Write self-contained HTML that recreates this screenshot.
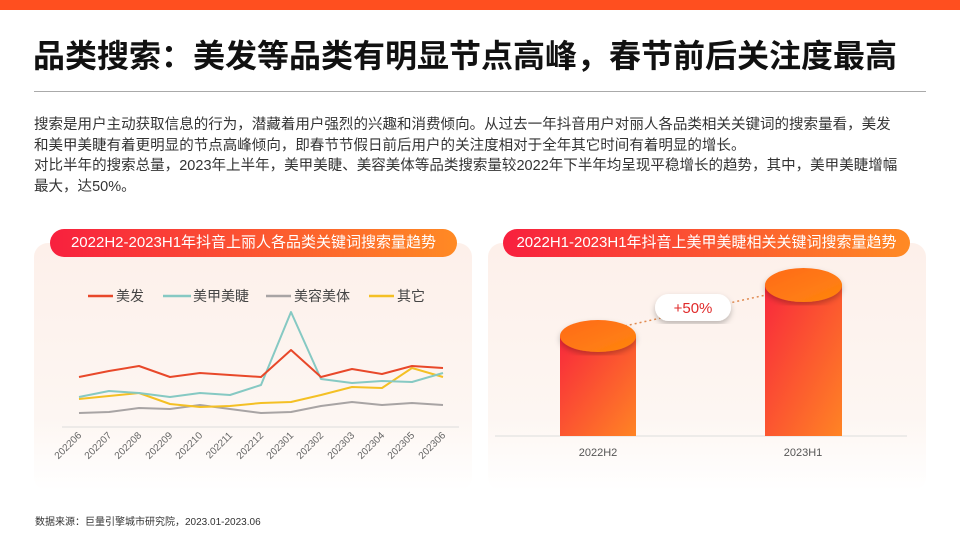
<!DOCTYPE html>
<html><head><meta charset="utf-8"><style>
*{margin:0;padding:0;box-sizing:border-box}
body{width:960px;height:540px;position:relative;background:#fff;font-family:"Liberation Sans","Noto Sans CJK SC",sans-serif;overflow:hidden}
.abs{position:absolute}
</style></head><body>
<div class="abs" style="left:0;top:0;width:960px;height:10px;background:#ff4f1f"></div>
<div class="abs" style="left:33px;top:34px;font-size:32px;font-weight:bold;color:#111;letter-spacing:0px;white-space:nowrap;line-height:44px">品类搜索：美发等品类有明显节点高峰，春节前后关注度最高</div>
<div class="abs" style="left:34px;top:91px;width:892px;height:1px;background:#aaa"></div>
<div class="abs" style="left:34px;top:115px;font-size:14.5px;color:#333;line-height:20.5px;white-space:nowrap;letter-spacing:0.02px">搜索是用户主动获取信息的行为，潜藏着用户强烈的兴趣和消费倾向。从过去一年抖音用户对丽人各品类相关关键词的搜索量看，美发<br>和美甲美睫有着更明显的节点高峰倾向，即春节节假日前后用户的关注度相对于全年其它时间有着明显的增长。<br>对比半年的搜索总量，2023年上半年，美甲美睫、美容美体等品类搜索量较2022年下半年均呈现平稳增长的趋势，其中，美甲美睫增幅<br>最大，达50%。</div>
<div class="abs" style="left:34px;top:243px;width:438px;height:248px;border-radius:14px;background:linear-gradient(#fdf0ea,#fdf6f2 70%,#fff)"></div>
<div class="abs" style="left:488px;top:243px;width:438px;height:248px;border-radius:14px;background:linear-gradient(#fdf0ea,#fdf6f2 70%,#fff)"></div>
<div class="abs" style="left:50px;top:229px;width:407px;height:28px;border-radius:14px;background:linear-gradient(90deg,#f8203e,#ff8a24);color:#fff;font-size:15px;line-height:28px;text-align:center">2022H2-2023H1年抖音上丽人各品类关键词搜索量趋势</div>
<div class="abs" style="left:503px;top:229px;width:407px;height:28px;border-radius:14px;background:linear-gradient(90deg,#f8203e,#ff8a24);color:#fff;font-size:15px;line-height:28px;text-align:center">2022H1-2023H1年抖音上美甲美睫相关关键词搜索量趋势</div>
<svg class="abs" style="left:0;top:0" width="960" height="540">
<defs>
<linearGradient id="bg" x1="0" y1="0" x2="1" y2="1"><stop offset="0" stop-color="#f8283c"/><stop offset="1" stop-color="#ff8424"/></linearGradient>
<linearGradient id="tg" x1="0" y1="0" x2="1" y2="1"><stop offset="0" stop-color="#ff6a1a"/><stop offset="1" stop-color="#ff860e"/></linearGradient>
<filter id="sh"><feDropShadow dx="0" dy="3" stdDeviation="3" flood-opacity="0.25"/></filter>
</defs>
<g font-size="14" fill="#444">
<line x1="88" y1="296" x2="113" y2="296" stroke="#e8482a" stroke-width="2.5"/><text x="116" y="301">美发</text>
<line x1="163" y1="296" x2="191" y2="296" stroke="#86c9c3" stroke-width="2.5"/><text x="193" y="301">美甲美睫</text>
<line x1="266" y1="296" x2="291" y2="296" stroke="#a8a4a4" stroke-width="2.5"/><text x="294" y="301">美容美体</text>
<line x1="369" y1="296" x2="394" y2="296" stroke="#f4c024" stroke-width="2.5"/><text x="397" y="301">其它</text>
</g>
<line x1="62" y1="427" x2="459" y2="427" stroke="#ddd" stroke-width="1"/>
<g fill="none" stroke-width="2" stroke-linejoin="round">
<polyline stroke="#a8a4a4" points="79,413 109,412 139,408 170,409 200,405 230,409 261,413 291,412 321,406 352,402 382,405 412,403 443,405"/>
<polyline stroke="#f4c024" points="79,399 109,396 139,393 170,404 200,407 230,406 261,403 291,402 321,395 352,387 382,388 412,368 443,377"/>
<polyline stroke="#86c9c3" points="79,397 109,391 139,393 170,397 200,393 230,395 261,385 291,312 321,379 352,383 382,381 412,382 443,373"/>
<polyline stroke="#e8482a" points="79,377 109,371 139,366 170,377 200,373 230,375 261,377 291,350 321,377 352,369 382,374 412,366 443,368"/>
</g>
<g font-size="10" fill="#666" text-anchor="end">
<text transform="translate(82,436) rotate(-45)">202206</text>
<text transform="translate(112,436) rotate(-45)">202207</text>
<text transform="translate(142,436) rotate(-45)">202208</text>
<text transform="translate(173,436) rotate(-45)">202209</text>
<text transform="translate(203,436) rotate(-45)">202210</text>
<text transform="translate(233,436) rotate(-45)">202211</text>
<text transform="translate(264,436) rotate(-45)">202212</text>
<text transform="translate(294,436) rotate(-45)">202301</text>
<text transform="translate(324,436) rotate(-45)">202302</text>
<text transform="translate(355,436) rotate(-45)">202303</text>
<text transform="translate(385,436) rotate(-45)">202304</text>
<text transform="translate(415,436) rotate(-45)">202305</text>
<text transform="translate(446,436) rotate(-45)">202306</text>
</g>
<line x1="495" y1="436" x2="907" y2="436" stroke="#ddd"/>
<line x1="620" y1="327" x2="775" y2="293" stroke="#e08a50" stroke-width="1.5" stroke-dasharray="2,3"/>
<rect x="560" y="336" width="76" height="100" fill="url(#bg)"/>
<ellipse cx="598" cy="336" rx="38" ry="16" fill="url(#tg)" filter="url(#sh)"/>
<rect x="765" y="285" width="77" height="151" fill="url(#bg)"/>
<ellipse cx="803.5" cy="285" rx="38.5" ry="17" fill="url(#tg)" filter="url(#sh)"/>
<rect x="655" y="294" width="76" height="27" rx="13.5" fill="#fff" filter="url(#sh)"/>
<text x="693" y="313" font-size="15" fill="#e02a2a" text-anchor="middle">+50%</text>
<g font-size="11" fill="#555" text-anchor="middle"><text x="598" y="456">2022H2</text><text x="803" y="456">2023H1</text></g>
</svg>
<div class="abs" style="left:35px;top:513px;font-size:10px;color:#333;white-space:nowrap">数据来源：巨量引擎城市研究院，2023.01-2023.06</div>
</body></html>
